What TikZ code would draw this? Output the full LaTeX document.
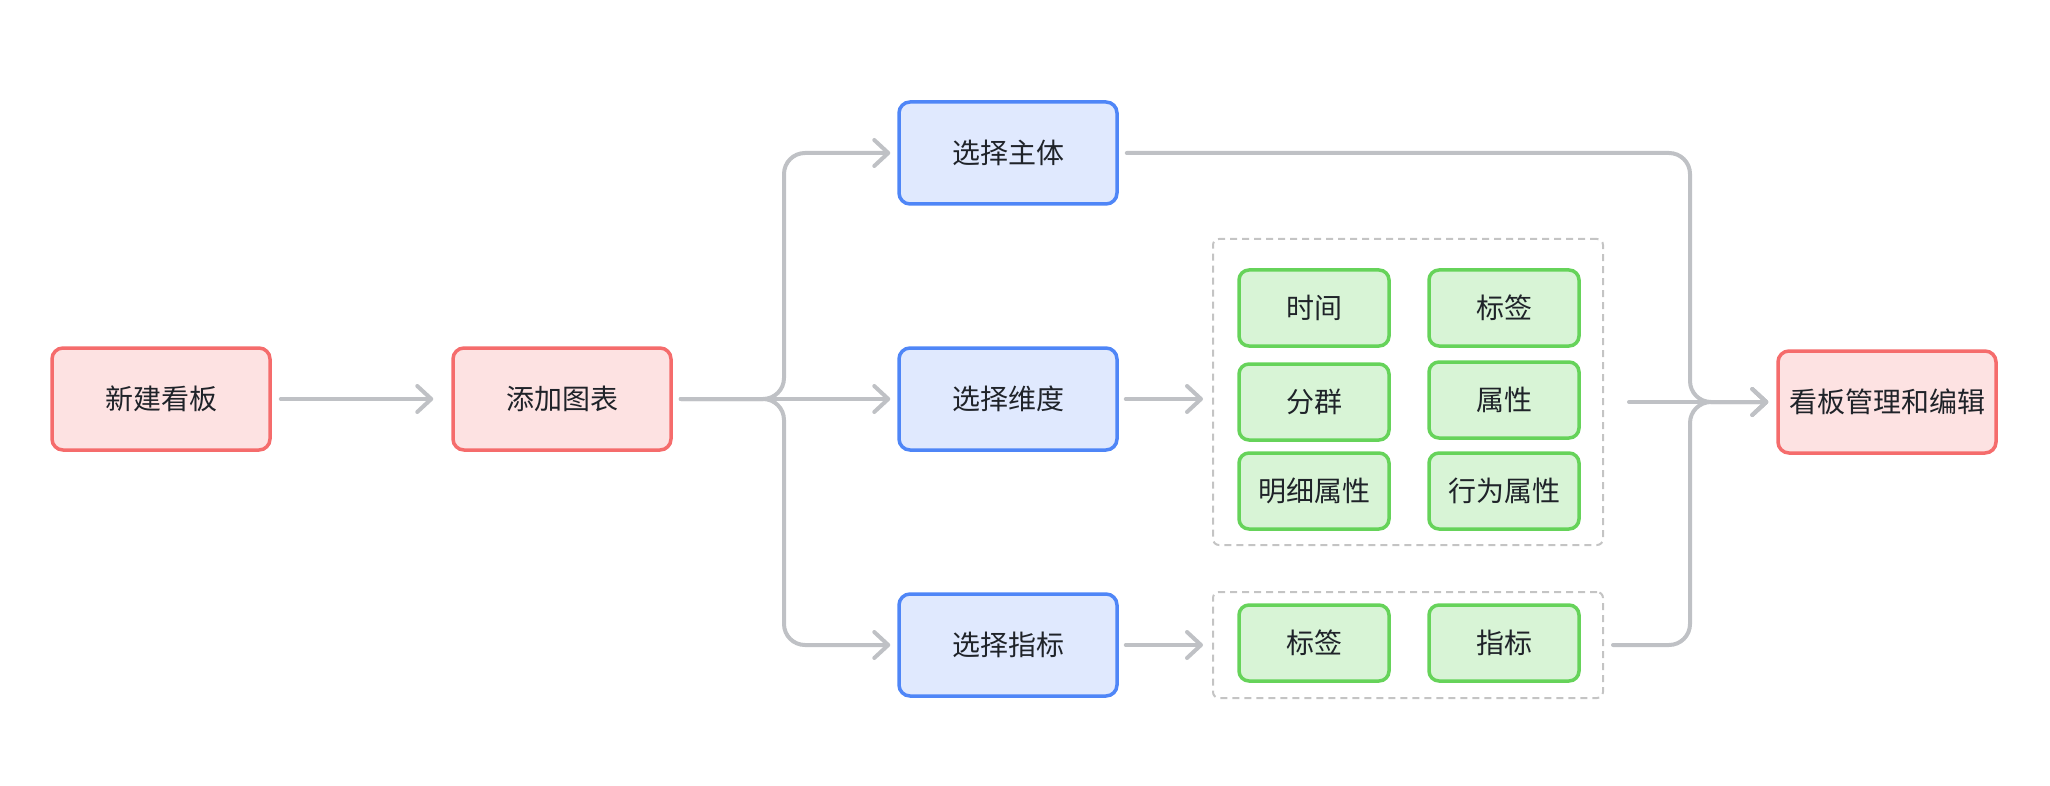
\documentclass[tikz,border=0pt]{standalone}
\usepackage{fontspec}
\setmainfont{Noto Sans CJK SC}
\usetikzlibrary{arrows.meta}
\definecolor{redline}{HTML}{F56C6C}
\definecolor{redfill}{HTML}{FDE2E2}
\definecolor{blueline}{HTML}{4F86F7}
\definecolor{bluefill}{HTML}{E0E9FE}
\definecolor{greenline}{HTML}{66D35A}
\definecolor{greenfill}{HTML}{D8F4D6}
\definecolor{connc}{HTML}{BFC1C5}
\definecolor{dashc}{HTML}{C4C4C4}
\definecolor{txt}{HTML}{1F2329}
\tikzset{
  box/.style={rectangle, rounded corners=11pt, line width=3.5pt, minimum width=218pt, minimum height=102pt, inner sep=0pt, text=txt, font=\fontsize{28pt}{32pt}\selectfont},
  redbox/.style={box, draw=redline, fill=redfill},
  bluebox/.style={box, draw=blueline, fill=bluefill},
  greenbox/.style={box, draw=greenline, fill=greenfill, minimum width=150pt, minimum height=76pt, rounded corners=10pt},
  dashbox/.style={rectangle, draw=dashc, line width=2pt, dash pattern=on 7pt off 5pt, rounded corners=6pt, inner sep=0pt},
  conn/.style={draw=connc, line width=4pt, line cap=round, line join=round, rounded corners=21pt},
  arr/.style={conn, -{Straight Barb[length=14pt, width=26pt, round]}},
}
\begin{document}
\begin{tikzpicture}[x=1pt, y=-1pt]
\useasboundingbox (0,0) rectangle (2050,786);
% main nodes
\node[redbox] (n1) at (161,399) {新建看板};
\node[redbox] (n2) at (562,399) {添加图表};
\node[bluebox] (s1) at (1008,153) {选择主体};
\node[bluebox] (s2) at (1008,399) {选择维度};
\node[bluebox] (s3) at (1008,645) {选择指标};
\node[redbox] (f) at (1887,402) {看板管理和编辑};
% dashed groups
\node[dashbox, minimum width=390pt, minimum height=306pt] (g1) at (1408,392) {};
\node[dashbox, minimum width=390pt, minimum height=106pt] (g2) at (1408,645) {};
% green items
\node[greenbox] (t1) at (1314,308) {时间};
\node[greenbox] (t2) at (1504,308) {标签};
\node[greenbox] (t3) at (1314,402) {分群};
\node[greenbox] (t4) at (1504,400) {属性};
\node[greenbox] (t5) at (1314,491) {明细属性};
\node[greenbox] (t6) at (1504,491) {行为属性};
\node[greenbox] (u1) at (1314,643) {标签};
\node[greenbox] (u2) at (1504,643) {指标};
% branch coordinates
\coordinate (bl) at (784,399);
\coordinate (br) at (1690,402);
% connectors
\draw[arr, shorten <=9pt, shorten >=18pt] (n1.east) -- (n2.west);
\draw[arr, shorten >=7pt] ([xshift=8pt]n2.east) -- (bl) -- (bl |- s1.west) -- (s1.west);
\draw[arr, shorten >=7pt] ([xshift=8pt]n2.east) -- (s2.west);
\draw[arr, shorten >=7pt] ([xshift=8pt]n2.east) -- (bl) -- (bl |- s3.west) -- (s3.west);
\draw[arr, shorten <=7pt, shorten >=9pt] (s2.east) -- (s2.east -| g1.west);
\draw[arr, shorten <=7pt, shorten >=9pt] (s3.east) -- (g2.west);
\draw[arr, shorten >=8pt] ([xshift=8pt]s1.east) -- (br |- s1.east) -- (br) -- (f.west);
\draw[arr, shorten >=8pt] ([xshift=25pt]g1.east |- br) -- (f.west);
\draw[arr, shorten >=8pt] ([xshift=9pt]g2.east) -- (br |- g2.east) -- (br) -- (f.west);
\end{tikzpicture}
\end{document}
